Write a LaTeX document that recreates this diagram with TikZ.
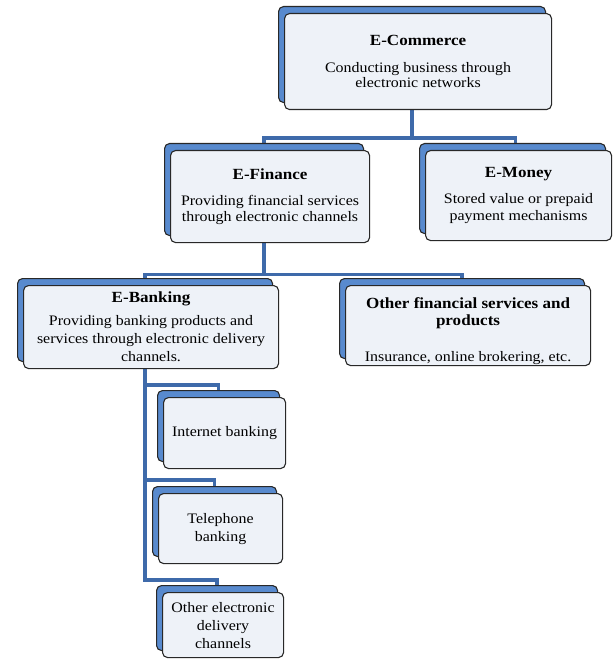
\documentclass[tikz,border=0pt]{standalone}
\usepackage{fontspec}
\setmainfont{Liberation Serif}[FakeStretch=1.1]
\usetikzlibrary{backgrounds}
\definecolor{connc}{RGB}{62,106,170}
\definecolor{backblue}{RGB}{88,138,206}
\definecolor{frontfill}{RGB}{238,242,248}
\definecolor{edgec}{RGB}{40,40,40}
\newcommand\bodyf{\fontsize{14.5}{15.5}\selectfont}
\newcommand\titf{\fontsize{15.5}{17}\selectfont\bfseries}
\tikzset{
  card/.style={draw=edgec, line width=1.1pt, fill=frontfill, rounded corners=5pt,
    anchor=north west, inner sep=0pt, align=center, font=\bodyf,
    preaction={draw=edgec, line width=1.1pt, fill=backblue,
      transform canvas={shift={(-6pt,7pt)}}}},
  link/.style={draw=connc, line width=3.2pt},
}
\begin{document}
\begin{tikzpicture}[x=1pt,y=-1pt]
\useasboundingbox (0,0) rectangle (613,660);
\node[card, minimum width=267pt, minimum height=96pt] (ecom) at (284,13)
  {{\titf E-Commerce}\\[11pt]Conducting business through\\electronic networks};
\node[card, minimum width=199pt, minimum height=92pt] (efin) at (170,150)
  {{\titf E-Finance}\\[11pt]Providing financial services\\through electronic channels};
\node[card, minimum width=186pt, minimum height=90pt] (emoney) at (425,150)
  {{\titf E-Money}\\[11pt]Stored value or prepaid\\[1.5pt]payment mechanisms};
\node[card, minimum width=255pt, minimum height=83pt] (ebank) at (23,285)
  {{\titf E-Banking}\\[7.5pt]Providing banking products and\\[2.5pt]services through electronic delivery\\[2.5pt]channels.};
\node[card, minimum width=245pt, minimum height=80pt] (other) at (345,285)
  {\rule{0pt}{23pt}{\titf Other financial services and}\\[1pt]{\titf products}\\[21pt]Insurance, online brokering, etc.};
\node[card, minimum width=122pt, minimum height=71pt] (inet) at (163,397)
  {Internet banking};
\node[card, minimum width=124pt, minimum height=70pt] (tele) at (158,493)
  {Telephone\\[2.5pt]banking};
\node[card, minimum width=121pt, minimum height=65pt] (oedc) at (162,592)
  {Other electronic\\[2.5pt]delivery\\[2.5pt]channels};
\path ([xshift=-6pt]ecom.south) ++(0,28) coordinate (j1);
\path ([xshift=-6pt]efin.south) ++(0,31) coordinate (j2);
\begin{scope}[on background layer]
  \draw[link] ([xshift=-6pt]ecom.south) -- (j1);
  \draw[link] ([xshift=-6pt]efin.north) |- (j1);
  \draw[link] ([xshift=-3pt]emoney.north) |- (j1);
  \draw[link] ([xshift=-6pt]efin.south) -- (j2);
  \draw[link] ([xshift=-6pt]ebank.north) |- (j2);
  \draw[link] ([xshift=-6pt]other.north) |- (j2);
  \draw[link] ([xshift=-6pt]ebank.south) |- ([xshift=-6pt,yshift=12pt]inet.north) -- ([xshift=-6pt]inet.north);
  \draw[link] ([xshift=-6pt]ebank.south) |- ([xshift=-6pt,yshift=13pt]tele.north) -- ([xshift=-6pt]tele.north);
  \draw[link] ([xshift=-6pt]ebank.south) |- ([xshift=-6pt,yshift=12pt]oedc.north) -- ([xshift=-6pt]oedc.north);
\end{scope}
\end{tikzpicture}
\end{document}
